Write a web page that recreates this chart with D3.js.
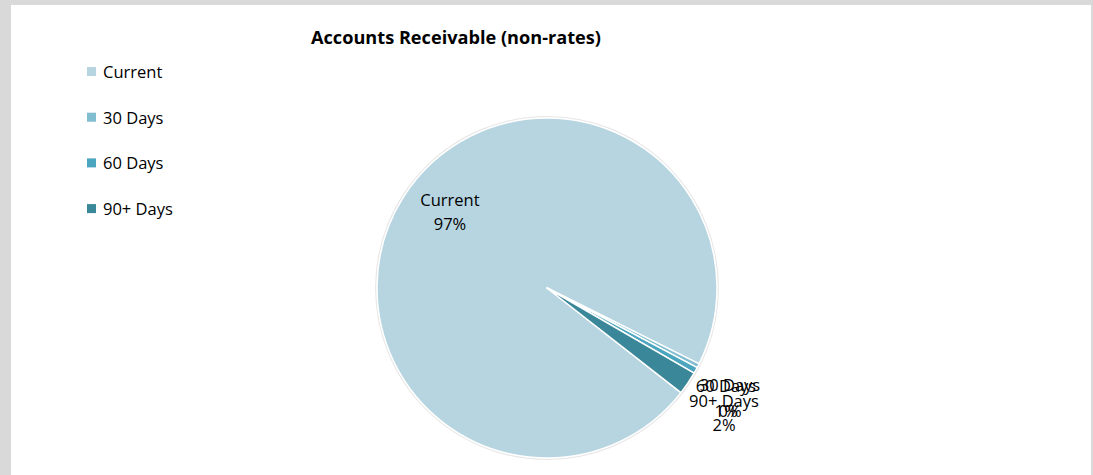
<!DOCTYPE html>
<html>
<head>
<meta charset="utf-8">
<script src="https://cdn.jsdelivr.net/npm/d3@7"></script>
<style>
  body { margin: 0; background: #d9d9d9; }
  svg { display: block; }
  text { font-family: "Open Sans", "Noto Sans", sans-serif; fill: #000; }
</style>
</head>
<body>
<div id="chart"></div>
<script>
// data
var categories = ["Current", "30 Days", "60 Days", "90+ Days"];
var values = [96.8, 0.4, 0.6, 2.2];
var pctLabels = ["97%", "0%", "1%", "2%"];
var colors = ["#b7d5e0", "#80bdd0", "#4ba5be", "#3a8799"];

var width = 1093,
    height = 475,
    cx = 547, cy = 288, radius = 170;

var svg = d3.select("#chart").append("svg")
    .attr("width", width)
    .attr("height", height);

svg.append("rect")
    .attr("x", 11).attr("y", 5)
    .attr("width", 1080).attr("height", height - 5)
    .attr("fill", "#fff");

svg.append("text")
    .attr("x", 456).attr("y", 44)
    .attr("text-anchor", "middle")
    .style("font-size", "17px")
    .style("font-weight", "bold")
    .attr("textLength", 290)
    .attr("lengthAdjust", "spacingAndGlyphs")
    .text("Accounts Receivable (non-rates)");

// legend
var legend = svg.selectAll(".legend")
    .data(categories)
    .enter().append("g")
    .attr("transform", function (d, i) { return "translate(87," + (67 + i * 45.7) + ")"; });

legend.append("rect")
    .attr("width", 9).attr("height", 9)
    .attr("fill", function (d, i) { return colors[i]; });

legend.append("text")
    .attr("x", 16).attr("y", 11)
    .style("font-size", "16.5px")
    .text(function (d) { return d; });

// pie, starts at ~128deg clockwise from top
var startA = 128 * Math.PI / 180;
var pie = d3.pie().sort(null)
    .startAngle(startA)
    .endAngle(startA + 2 * Math.PI);

var arcs = pie(values);
var arc = d3.arc().innerRadius(0).outerRadius(radius);

var g = svg.append("g").attr("transform", "translate(" + cx + "," + cy + ")");

g.append("circle")
    .attr("r", radius + 1.2)
    .attr("fill", "none")
    .attr("stroke", "#e8e8e8")
    .attr("stroke-width", 1.5);

g.selectAll("path")
    .data(arcs)
    .enter().append("path")
    .attr("d", arc)
    .attr("fill", function (d, i) { return colors[i]; })
    .attr("stroke", "#fff")
    .attr("stroke-width", 1.5)
    .attr("stroke-linejoin", "round");

// labels
var labelPos = [
    {x: 450, y: 206, y2: 230},
    {x: 730, y: 391, y2: 417},
    {x: 726, y: 392, y2: 417},
    {x: 724, y: 407, y2: 431}
];

var labels = svg.selectAll(".lbl")
    .data(categories)
    .enter().append("g");

labels.append("text")
    .attr("x", function (d, i) { return labelPos[i].x; })
    .attr("y", function (d, i) { return labelPos[i].y; })
    .attr("text-anchor", "middle")
    .style("font-size", "16.5px")
    .text(function (d) { return d; });

labels.append("text")
    .attr("x", function (d, i) { return labelPos[i].x; })
    .attr("y", function (d, i) { return labelPos[i].y2; })
    .attr("text-anchor", "middle")
    .style("font-size", "16.5px")
    .text(function (d, i) { return pctLabels[i]; });
</script>
</body>
</html>
